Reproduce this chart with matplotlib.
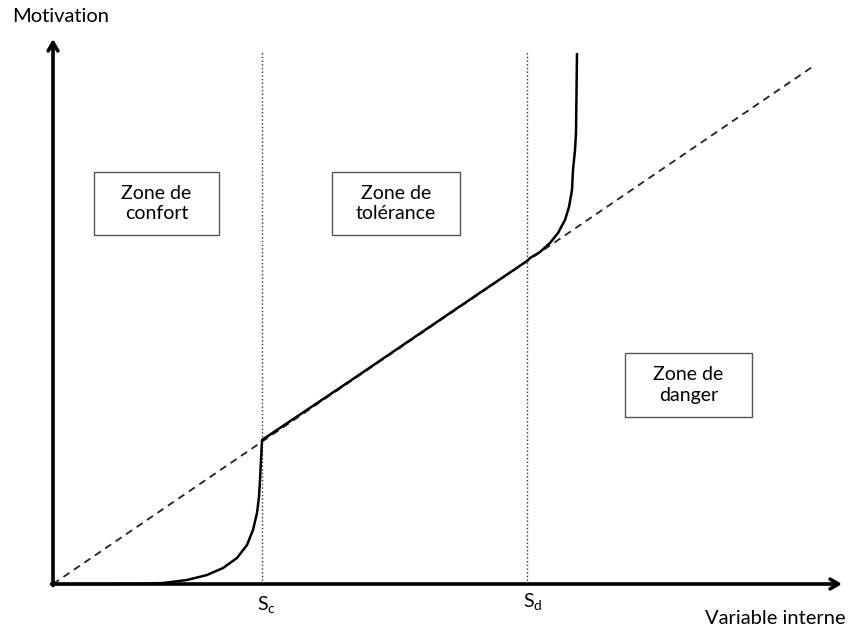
# Motivation vs variable interne: zones de confort / tolérance / danger

import numpy as np
import matplotlib.pyplot as plt
from matplotlib.patches import Rectangle

plt.rcParams['font.family'] = ['Lato', 'DejaVu Sans']

# thresholds on the internal variable
s_c = 209
s_d = 474
slope = 0.681          # dashed reference line
x_end_ref = 761

# solid curve
curve_x = [0, 60, 90, 110, 134, 154, 170, 184, 194, 200, 204, 206, 207, 208, 209,
           300, 400, 474, 477, 487, 497, 505, 512, 516, 519, 520, 522, 523, 524]
curve_y = [0, 0, 0.3, 1, 4, 9, 16, 26, 39, 54, 71, 87, 104, 124, 144,
           205, 273, 323, 326, 332, 341, 351, 364, 377, 394, 414, 434, 451, 531]

zone_labels = ['Zone de\nconfort', 'Zone de\ntolérance', 'Zone de\ndanger']
zone_boxes = [(41, 349, 125, 63), (279, 349, 128, 63), (572, 167, 127, 64)]

fig = plt.figure(figsize=(8.49, 6.3), dpi=100)
ax = fig.add_axes([0, 0, 1, 1])
ax.set_xlim(-53, 796)
ax.set_ylim(-46, 584)
ax.set_axis_off()

# reference diagonal
xr = np.array([0, x_end_ref])
ax.plot(xr, slope * xr, ls=(0, (4, 3)), c='#222222', lw=1.3)

# thresholds
for s in (s_c, s_d):
    ax.plot([s, s], [0, 532], ls=':', c='#333333', lw=1)

ax.plot(curve_x, curve_y, c='black', lw=1.8, solid_capstyle='butt',
        solid_joinstyle='round')

# axes with arrows
arrow = dict(arrowstyle='->, head_length=0.6, head_width=0.35', lw=2.6, color='black',
             shrinkA=0, shrinkB=0)
ax.annotate('', xy=(0, 545), xytext=(0, -1.5), arrowprops=arrow)
ax.annotate('', xy=(789, 0), xytext=(-1.5, 0), arrowprops=arrow)

# zone boxes
for label, (bx, by, bw, bh) in zip(zone_labels, zone_boxes):
    ax.add_patch(Rectangle((bx, by), bw, bh, fill=False, ec='#555555', lw=1))
    ax.text(bx + bw / 2, by + bh / 2, label, ha='center', va='center',
            fontsize=14, linespacing=1.25)

ax.text(-41, 567, 'Motivation', fontsize=14.5, va='center', ha='left')
ax.text(793, -34, 'Variable interne', fontsize=14.5, va='center', ha='right')
ax.text(s_c + 4, -21, r'S$_\mathregular{c}$', fontsize=14, va='center', ha='center')
ax.text(s_d + 6, -18, r'S$_\mathregular{d}$', fontsize=14, va='center', ha='center')

fig.savefig('out.png', dpi=100)
